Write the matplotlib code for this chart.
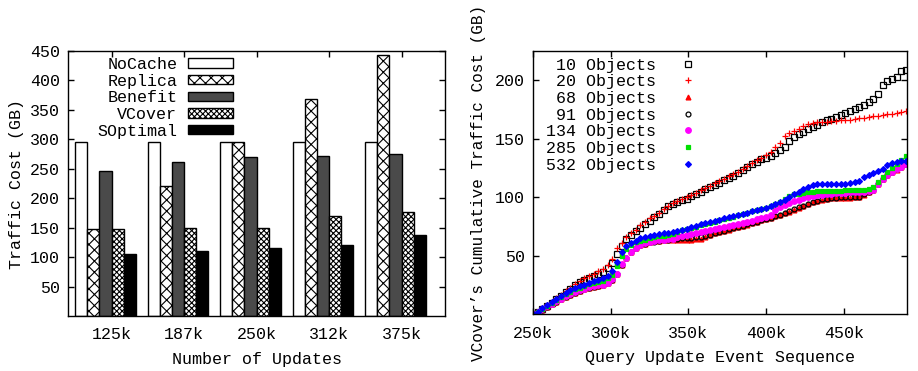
import numpy as np
import matplotlib
matplotlib.use('Agg')
import matplotlib.pyplot as plt

plt.rcParams['font.family'] = ['Liberation Mono', 'DejaVu Sans Mono']
plt.rcParams['font.size'] = 12
plt.rcParams['hatch.linewidth'] = 0.8

# left chart: traffic cost per method
updates = ['125k', '187k', '250k', '312k', '375k']
methods = ['NoCache', 'Replica', 'Benefit', 'VCover', 'SOptimal']
nocache = [296, 296, 296, 296, 296]
replica = [147, 221, 296, 369, 444]
benefit = [247, 262, 270, 271, 275]
vcover = [147, 150, 150, 169, 176]
soptimal = [106, 111, 116, 120, 137]

# right chart: cumulative cost, sampled every 3k events from 250k
events = np.arange(250, 491, 3)
obj_labels = ['10 Objects', '20 Objects', '68 Objects', '91 Objects',
              '134 Objects', '285 Objects', '532 Objects']
obj10 = [0, 2, 5, 7.5, 10, 13, 16, 19, 22, 25,
         27.5, 29.5, 31, 33, 34.5, 36.5, 39.5, 44, 52, 58.5,
         64.5, 68, 71, 74, 77, 80, 83, 86, 89.5, 92.5,
         94.5, 96, 97.5, 99, 101, 103, 105, 107, 109, 110.5,
         112.5, 114.5, 116.5, 118.5, 121, 123.5, 126, 128.5, 130.5, 132.5,
         134, 135.5, 138, 140.5, 143, 148, 151.4, 154, 155.5, 158,
         160, 162, 164.5, 166, 167.3, 169, 170.5, 172, 173.4, 175.5,
         177, 178.7, 181.5, 184, 188, 196, 199, 200.7, 203, 207.7,
         209]
obj20 = [0, 2.5, 5.5, 8.5, 11, 14, 17, 20, 23, 26,
         28.5, 31, 33, 35, 37, 39, 42, 47, 57, 61,
         66, 69.5, 72.5, 76, 79, 82, 84.5, 87, 90, 92.5,
         95, 97, 98.5, 100, 102, 104, 106, 108, 110, 112,
         114, 116, 118, 120, 122, 124.5, 127, 129.5, 132, 134,
         136.5, 139, 143, 146.5, 152.5, 155, 156.5, 158, 161, 162.8,
         163.5, 164, 164.3, 164.6, 165, 165.4, 165.7, 166, 166.5, 167,
         167.5, 168, 168.7, 169.3, 169.7, 170.2, 171, 171.5, 172, 172.7,
         173.4]
obj68 = [0, 1.8, 4.2, 6.7, 8.7, 11, 13, 15, 17, 18.6,
         20, 21.5, 22.7, 23.7, 24.3, 25, 26.5, 29.5, 34.5, 42.5,
         48, 53, 56.5, 59, 60.5, 61.5, 62.5, 63, 63.3, 63.5,
         63.6, 63.7, 63.8, 63.9, 64, 64.2, 64.8, 66.5, 68, 69.2,
         70.2, 71.3, 72.4, 73.5, 74.6, 75.7, 76.8, 78, 79.1, 80.3,
         81.5, 82.6, 83.8, 84.8, 86.3, 87.8, 89.6, 91.3, 92.8, 94.3,
         95.8, 97.1, 98.1, 98.8, 99.3, 99.6, 99.8, 99.9, 99.9, 100.1,
         100.4, 102.3, 104.3, 106.3, 111.3, 115.8, 119.3, 121.3, 123.8, 125.8,
         128.3]
obj91 = [0, 1.8, 4.2, 6.7, 8.7, 11, 13, 15, 17, 18.6,
         20, 21.5, 22.7, 23.7, 24.3, 25, 26.5, 29.5, 34.5, 42.5,
         48, 53, 56.5, 59, 60.5, 61.5, 62.3, 62.8, 63.3, 63.7,
         64.2, 64.6, 65, 65.3, 65.6, 66, 66.3, 67, 68.2, 69.4,
         70.4, 71.5, 72.6, 73.7, 74.8, 75.9, 77, 78.2, 79.3, 80.5,
         81.7, 82.8, 84, 85, 86.5, 88, 89.8, 91.5, 93, 94.5,
         96, 97.3, 98.3, 99, 99.5, 99.8, 100, 100.1, 100.1, 100.3,
         100.6, 102.5, 104.5, 106.5, 111.5, 116, 119.5, 121.5, 124, 126,
         128.5]
obj134 = [0, 2, 4.5, 7, 9, 11.5, 13.5, 15.5, 17.5, 19,
          20.5, 22, 23.2, 24.2, 24.8, 25.5, 27, 30, 35, 43,
          48.5, 53.5, 57, 59.5, 61, 62, 62.8, 63.3, 63.8, 64.2,
          64.8, 65.8, 67, 67.8, 68.5, 69.5, 70.3, 71, 72, 72.7,
          73.5, 74.4, 75.3, 76.2, 77.2, 78.2, 79.2, 80.2, 81.3, 82.3,
          83.5, 85, 89, 91.5, 93.5, 95.2, 96.8, 98.2, 99.2, 100.2,
          101, 101.7, 102.3, 102.8, 103.2, 103.5, 103.8, 104, 104.2, 104.4,
          104.6, 104.8, 105.5, 106.5, 111.5, 116, 119.5, 121.5, 124, 126,
          128.5]
obj285 = [0, 2.2, 5, 7.5, 10, 12.5, 15, 17.5, 19.5, 21.5,
          23, 24.5, 26, 27, 28, 29, 31, 34, 41, 50,
          56, 59.5, 61.5, 63, 64, 65, 66, 66.7, 67.4, 68,
          69, 70.5, 71.8, 73, 74, 75, 76.2, 77.3, 78.3, 79.3,
          80.3, 81.3, 82.3, 83.5, 84.6, 85.8, 87, 88, 89, 90,
          91, 92.5, 94, 96, 99, 101.3, 102.5, 103.3, 104, 104.5,
          105, 105.2, 105.4, 105.5, 105.6, 105.7, 105.8, 106, 106.1, 106.3,
          106.4, 106.7, 107.2, 109.2, 113.4, 117, 121.5, 124.9, 128.5, 132.3,
          135]
obj532 = [0, 2.5, 5.5, 8, 10.5, 13, 15.5, 18, 20.5, 22.3,
          24, 25.5, 27, 28.3, 29.5, 31, 32.8, 37, 45, 53,
          58.5, 61, 63, 65, 66.2, 67, 67.8, 68.5, 69.3, 70,
          70.8, 71.7, 72.5, 73.4, 74.5, 75.8, 77, 78, 79, 80,
          81, 82, 83, 84, 85, 86, 87, 88, 89.2, 90.3,
          91.3, 92.5, 94, 95.7, 98, 100, 102.5, 105, 107.5, 109.2,
          110.5, 111.2, 111.4, 111.5, 111.5, 111.5, 111.6, 111.8, 112.2, 113,
          114.4, 117, 119, 120.7, 122.3, 124.3, 127.5, 129.5, 130.5, 131,
          131.3]
event_ticks = [250, 300, 350, 400, 450]
event_tick_labels = ['250k', '300k', '350k', '400k', '450k']

fig = plt.figure(figsize=(9.18, 3.71), dpi=100)
ax1 = fig.add_axes([0.0741, 0.1482, 0.4107, 0.7143])
ax2 = fig.add_axes([0.5806, 0.1523, 0.4074, 0.7102])

# ---- left: clustered bars
x = np.arange(len(updates))
w = 1 / 6
bar_data = [nocache, replica, benefit, vcover, soptimal]
faces = ['white', 'white', '#4a4a4a', 'white', 'black']
hatches = [None, 'xxx', None, 'xxxxxx', None]
for j, vals in enumerate(bar_data):
    ax1.bar(x + (j - 2.5) * w, vals, w, color=faces[j], edgecolor='black',
            hatch=hatches[j], linewidth=1, label=methods[j])

ax1.set_xlim(-0.6, 4.6)
ax1.set_ylim(0, 450)
ax1.set_xticks(x)
ax1.set_xticklabels(updates)
ax1.set_yticks(range(50, 451, 50))
ax1.set_xlabel('Number of Updates', labelpad=7)
ax1.set_ylabel('Traffic Cost (GB)')
ax1.legend(loc='upper right', bbox_to_anchor=(0.438, 0.978), frameon=False,
           markerfirst=False, handlelength=2.7, handleheight=0.5,
           handletextpad=0.65, labelspacing=0.1, borderpad=0, borderaxespad=0)

# ---- right: cumulative traffic scatter
styles = [('s', 'black', 'none', 4.0),
          ('+', 'red', 'red', 4.5),
          ('^', 'red', 'red', 3.5),
          ('o', 'black', 'none', 3.5),
          ('o', '#ff00ff', '#ff00ff', 4.0),
          ('s', '#00e000', '#00e000', 3.5),
          ('D', 'blue', 'blue', 3.0)]
obj_data = [obj10, obj20, obj68, obj91, obj134, obj285, obj532]
for lab, vals, (m, ec, fc, ms) in zip(obj_labels, obj_data, styles):
    ax2.plot(events, vals, linestyle='none', marker=m, markersize=ms,
             markeredgecolor=ec, markerfacecolor=fc, markeredgewidth=0.9,
             label=lab)

ax2.set_xlim(250, 490.7)
ax2.set_ylim(0, 225)
ax2.set_xticks(event_ticks)
ax2.set_xticklabels(event_tick_labels)
ax2.set_yticks([50, 100, 150, 200])
ax2.set_xlabel('Query Update Event Sequence', labelpad=7)
ax2.set_ylabel('VCover\u2019s Cumulative Traffic Cost (GB)', labelpad=6,
               fontsize=11.5)
ax2.legend(loc='upper right', bbox_to_anchor=(0.463, 0.975), frameon=False,
           markerfirst=False, handlelength=2.2, handletextpad=0.8,
           labelspacing=0.1, borderpad=0, borderaxespad=0, numpoints=1)

for ax in (ax1, ax2):
    ax.tick_params(direction='in', top=True, right=True, length=4, width=1, pad=6)
    ax.tick_params(axis='x', pad=8)
    for s in ax.spines.values():
        s.set_linewidth(1)

fig.savefig('out.png', dpi=100)
